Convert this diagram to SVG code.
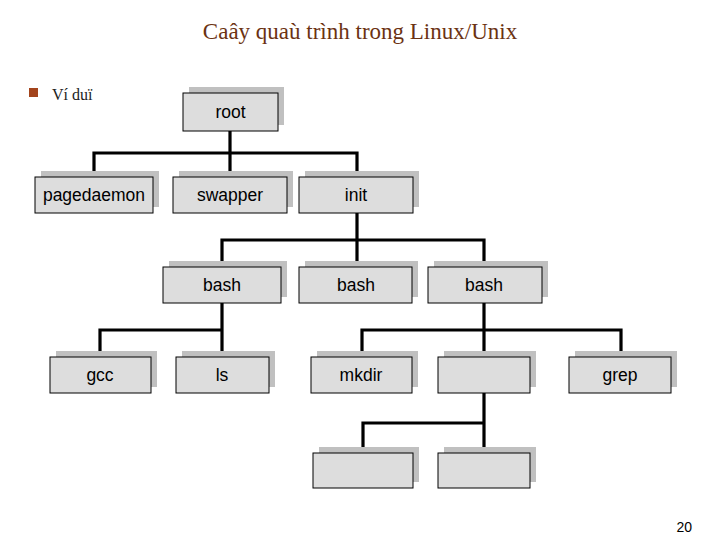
<svg xmlns="http://www.w3.org/2000/svg" width="720" height="540" viewBox="0 0 720 540">
<style>
.sh{fill:#c0c0c0;stroke:none}
.bx{fill:#dddddd;stroke:#000;stroke-width:1}
.lb{font-family:"Liberation Sans",Arial,sans-serif;font-size:17.5px;fill:#000;text-anchor:middle}
.cn{fill:none;stroke:#000;stroke-width:3.2;stroke-linejoin:miter;stroke-linecap:butt}
</style>
<rect width="720" height="540" fill="#fff"/>
<text x="360" y="39" font-family="'Liberation Serif','Times New Roman',serif" font-size="23" fill="#6b3212" text-anchor="middle">Caây quaù trình trong Linux/Unix</text>
<rect x="29" y="88" width="9" height="9" fill="#a3441c"/>
<text x="52" y="100" font-family="'Liberation Serif','Times New Roman',serif" font-size="16" fill="#222">Ví duï</text>
<text x="692" y="532" font-family="'Liberation Sans',Arial,sans-serif" font-size="14" fill="#000" text-anchor="end">20</text>
<g id="connectors">
<path class="cn" d="M230,131 V153 M94,177 V153 H357 V177 M230,153 V177"/>
<path class="cn" d="M357,213 V240 M222,267 V240 H484 V267 M357,240 V267"/>
<path class="cn" d="M222,303 V330 M100,357 V330 H222 V357"/>
<path class="cn" d="M484,303 V330 M362,357 V330 H621 V357 M484,330 V357"/>
<path class="cn" d="M484,393 V423 M363,453 V423 H484 V453"/>
</g>
<g id="root"><rect class="sh" x="189" y="87" width="95" height="38"/><rect class="bx" x="183" y="93" width="95" height="38"/><text class="lb" x="230.5" y="118">root</text></g>
<g id="pagedaemon"><rect class="sh" x="41" y="171" width="118" height="36"/><rect class="bx" x="35" y="177" width="118" height="36"/><text class="lb" x="94" y="201">pagedaemon</text></g>
<g id="swapper"><rect class="sh" x="179" y="171" width="114" height="36"/><rect class="bx" x="173" y="177" width="114" height="36"/><text class="lb" x="230" y="201">swapper</text></g>
<g id="init"><rect class="sh" x="305" y="171" width="114" height="36"/><rect class="bx" x="299" y="177" width="114" height="36"/><text class="lb" x="356" y="201">init</text></g>
<g id="bash1"><rect class="sh" x="169" y="261" width="118" height="36"/><rect class="bx" x="163" y="267" width="118" height="36"/><text class="lb" x="222" y="291">bash</text></g>
<g id="bash2"><rect class="sh" x="305" y="261" width="113" height="36"/><rect class="bx" x="299" y="267" width="113" height="36"/><text class="lb" x="356" y="291">bash</text></g>
<g id="bash3"><rect class="sh" x="434" y="261" width="114" height="36"/><rect class="bx" x="428" y="267" width="114" height="36"/><text class="lb" x="484" y="291">bash</text></g>
<g id="gcc"><rect class="sh" x="56" y="351" width="101" height="36"/><rect class="bx" x="50" y="357" width="101" height="36"/><text class="lb" x="100" y="381">gcc</text></g>
<g id="ls"><rect class="sh" x="182" y="351" width="93" height="36"/><rect class="bx" x="176" y="357" width="93" height="36"/><text class="lb" x="222" y="381">ls</text></g>
<g id="mkdir"><rect class="sh" x="317" y="351" width="101" height="36"/><rect class="bx" x="311" y="357" width="101" height="36"/><text class="lb" x="361" y="381">mkdir</text></g>
<g id="empty1"><rect class="sh" x="444" y="351" width="92" height="36"/><rect class="bx" x="438" y="357" width="92" height="36"/></g>
<g id="grep"><rect class="sh" x="575" y="351" width="102" height="36"/><rect class="bx" x="569" y="357" width="102" height="36"/><text class="lb" x="620" y="381">grep</text></g>
<g id="empty2"><rect class="sh" x="319" y="447" width="100" height="35"/><rect class="bx" x="313" y="453" width="100" height="35"/></g>
<g id="empty3"><rect class="sh" x="444" y="447" width="92" height="35"/><rect class="bx" x="438" y="453" width="92" height="35"/></g>
</svg>
